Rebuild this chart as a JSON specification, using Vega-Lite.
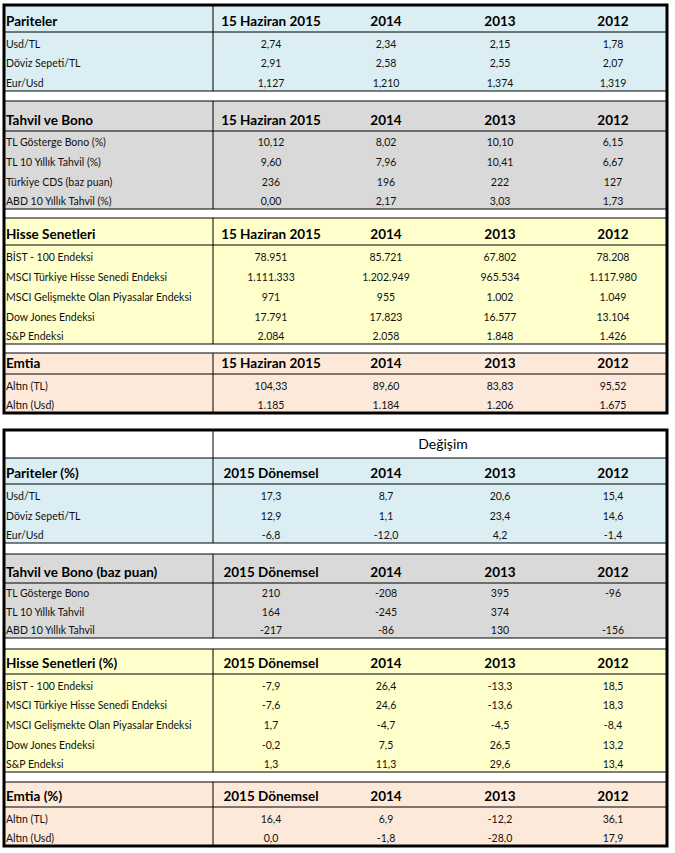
{
"$schema": "https://vega.github.io/schema/vega-lite/v6.json",
"width": 675, "height": 853, "autosize": "none", "padding": 0, "background": "white",
"config": {"view": {"stroke": null}, "font": "Lato"},
"datasets": {
"cells": [
{"r":1,"c":0,"k":"h","t":"Pariteler"},{"r":1,"c":1,"k":"h","t":"15 Haziran 2015"},{"r":1,"c":2,"k":"h","t":"2014"},{"r":1,"c":3,"k":"h","t":"2013"},{"r":1,"c":4,"k":"h","t":"2012"},
{"r":2,"c":0,"k":"b","t":"Usd/TL"},{"r":2,"c":1,"k":"b","t":"2,74"},{"r":2,"c":2,"k":"b","t":"2,34"},{"r":2,"c":3,"k":"b","t":"2,15"},{"r":2,"c":4,"k":"b","t":"1,78"},
{"r":3,"c":0,"k":"b","t":"Döviz Sepeti/TL"},{"r":3,"c":1,"k":"b","t":"2,91"},{"r":3,"c":2,"k":"b","t":"2,58"},{"r":3,"c":3,"k":"b","t":"2,55"},{"r":3,"c":4,"k":"b","t":"2,07"},
{"r":4,"c":0,"k":"b","t":"Eur/Usd"},{"r":4,"c":1,"k":"b","t":"1,127"},{"r":4,"c":2,"k":"b","t":"1,210"},{"r":4,"c":3,"k":"b","t":"1,374"},{"r":4,"c":4,"k":"b","t":"1,319"},
{"r":6,"c":0,"k":"h","t":"Tahvil ve Bono"},{"r":6,"c":1,"k":"h","t":"15 Haziran 2015"},{"r":6,"c":2,"k":"h","t":"2014"},{"r":6,"c":3,"k":"h","t":"2013"},{"r":6,"c":4,"k":"h","t":"2012"},
{"r":7,"c":0,"k":"b","t":"TL Gösterge Bono (%)"},{"r":7,"c":1,"k":"b","t":"10,12"},{"r":7,"c":2,"k":"b","t":"8,02"},{"r":7,"c":3,"k":"b","t":"10,10"},{"r":7,"c":4,"k":"b","t":"6,15"},
{"r":8,"c":0,"k":"b","t":"TL 10 Yıllık Tahvil (%)"},{"r":8,"c":1,"k":"b","t":"9,60"},{"r":8,"c":2,"k":"b","t":"7,96"},{"r":8,"c":3,"k":"b","t":"10,41"},{"r":8,"c":4,"k":"b","t":"6,67"},
{"r":9,"c":0,"k":"b","t":"Türkiye CDS (baz puan)"},{"r":9,"c":1,"k":"b","t":"236"},{"r":9,"c":2,"k":"b","t":"196"},{"r":9,"c":3,"k":"b","t":"222"},{"r":9,"c":4,"k":"b","t":"127"},
{"r":10,"c":0,"k":"b","t":"ABD 10 Yıllık Tahvil (%)"},{"r":10,"c":1,"k":"b","t":"0,00"},{"r":10,"c":2,"k":"b","t":"2,17"},{"r":10,"c":3,"k":"b","t":"3,03"},{"r":10,"c":4,"k":"b","t":"1,73"},
{"r":12,"c":0,"k":"h","t":"Hisse Senetleri"},{"r":12,"c":1,"k":"h","t":"15 Haziran 2015"},{"r":12,"c":2,"k":"h","t":"2014"},{"r":12,"c":3,"k":"h","t":"2013"},{"r":12,"c":4,"k":"h","t":"2012"},
{"r":13,"c":0,"k":"b","t":"BİST - 100 Endeksi"},{"r":13,"c":1,"k":"b","t":"78.951"},{"r":13,"c":2,"k":"b","t":"85.721"},{"r":13,"c":3,"k":"b","t":"67.802"},{"r":13,"c":4,"k":"b","t":"78.208"},
{"r":14,"c":0,"k":"b","t":"MSCI Türkiye Hisse Senedi Endeksi"},{"r":14,"c":1,"k":"b","t":"1.111.333"},{"r":14,"c":2,"k":"b","t":"1.202.949"},{"r":14,"c":3,"k":"b","t":"965.534"},{"r":14,"c":4,"k":"b","t":"1.117.980"},
{"r":15,"c":0,"k":"b","t":"MSCI Gelişmekte Olan Piyasalar Endeksi"},{"r":15,"c":1,"k":"b","t":"971"},{"r":15,"c":2,"k":"b","t":"955"},{"r":15,"c":3,"k":"b","t":"1.002"},{"r":15,"c":4,"k":"b","t":"1.049"},
{"r":16,"c":0,"k":"b","t":"Dow Jones Endeksi"},{"r":16,"c":1,"k":"b","t":"17.791"},{"r":16,"c":2,"k":"b","t":"17.823"},{"r":16,"c":3,"k":"b","t":"16.577"},{"r":16,"c":4,"k":"b","t":"13.104"},
{"r":17,"c":0,"k":"b","t":"S&P Endeksi"},{"r":17,"c":1,"k":"b","t":"2.084"},{"r":17,"c":2,"k":"b","t":"2.058"},{"r":17,"c":3,"k":"b","t":"1.848"},{"r":17,"c":4,"k":"b","t":"1.426"},
{"r":19,"c":0,"k":"h","t":"Emtia"},{"r":19,"c":1,"k":"h","t":"15 Haziran 2015"},{"r":19,"c":2,"k":"h","t":"2014"},{"r":19,"c":3,"k":"h","t":"2013"},{"r":19,"c":4,"k":"h","t":"2012"},
{"r":20,"c":0,"k":"b","t":"Altın (TL)"},{"r":20,"c":1,"k":"b","t":"104,33"},{"r":20,"c":2,"k":"b","t":"89,60"},{"r":20,"c":3,"k":"b","t":"83,83"},{"r":20,"c":4,"k":"b","t":"95,52"},
{"r":21,"c":0,"k":"b","t":"Altın (Usd)"},{"r":21,"c":1,"k":"b","t":"1.185"},{"r":21,"c":2,"k":"b","t":"1.184"},{"r":21,"c":3,"k":"b","t":"1.206"},{"r":21,"c":4,"k":"b","t":"1.675"},
{"r":23,"c":2.5,"k":"t","t":"Değişim"},
{"r":24,"c":0,"k":"h","t":"Pariteler (%)"},{"r":24,"c":1,"k":"h","t":"2015 Dönemsel"},{"r":24,"c":2,"k":"h","t":"2014"},{"r":24,"c":3,"k":"h","t":"2013"},{"r":24,"c":4,"k":"h","t":"2012"},
{"r":25,"c":0,"k":"b","t":"Usd/TL"},{"r":25,"c":1,"k":"b","t":"17,3"},{"r":25,"c":2,"k":"b","t":"8,7"},{"r":25,"c":3,"k":"b","t":"20,6"},{"r":25,"c":4,"k":"b","t":"15,4"},
{"r":26,"c":0,"k":"b","t":"Döviz Sepeti/TL"},{"r":26,"c":1,"k":"b","t":"12,9"},{"r":26,"c":2,"k":"b","t":"1,1"},{"r":26,"c":3,"k":"b","t":"23,4"},{"r":26,"c":4,"k":"b","t":"14,6"},
{"r":27,"c":0,"k":"b","t":"Eur/Usd"},{"r":27,"c":1,"k":"b","t":"-6,8"},{"r":27,"c":2,"k":"b","t":"-12,0"},{"r":27,"c":3,"k":"b","t":"4,2"},{"r":27,"c":4,"k":"b","t":"-1,4"},
{"r":29,"c":0,"k":"h","t":"Tahvil ve Bono (baz puan)"},{"r":29,"c":1,"k":"h","t":"2015 Dönemsel"},{"r":29,"c":2,"k":"h","t":"2014"},{"r":29,"c":3,"k":"h","t":"2013"},{"r":29,"c":4,"k":"h","t":"2012"},
{"r":30,"c":0,"k":"b","t":"TL Gösterge Bono"},{"r":30,"c":1,"k":"b","t":"210"},{"r":30,"c":2,"k":"b","t":"-208"},{"r":30,"c":3,"k":"b","t":"395"},{"r":30,"c":4,"k":"b","t":"-96"},
{"r":31,"c":0,"k":"b","t":"TL 10 Yıllık Tahvil"},{"r":31,"c":1,"k":"b","t":"164"},{"r":31,"c":2,"k":"b","t":"-245"},{"r":31,"c":3,"k":"b","t":"374"},
{"r":32,"c":0,"k":"b","t":"ABD 10 Yıllık Tahvil"},{"r":32,"c":1,"k":"b","t":"-217"},{"r":32,"c":2,"k":"b","t":"-86"},{"r":32,"c":3,"k":"b","t":"130"},{"r":32,"c":4,"k":"b","t":"-156"},
{"r":34,"c":0,"k":"h","t":"Hisse Senetleri (%)"},{"r":34,"c":1,"k":"h","t":"2015 Dönemsel"},{"r":34,"c":2,"k":"h","t":"2014"},{"r":34,"c":3,"k":"h","t":"2013"},{"r":34,"c":4,"k":"h","t":"2012"},
{"r":35,"c":0,"k":"b","t":"BİST - 100 Endeksi"},{"r":35,"c":1,"k":"b","t":"-7,9"},{"r":35,"c":2,"k":"b","t":"26,4"},{"r":35,"c":3,"k":"b","t":"-13,3"},{"r":35,"c":4,"k":"b","t":"18,5"},
{"r":36,"c":0,"k":"b","t":"MSCI Türkiye Hisse Senedi Endeksi"},{"r":36,"c":1,"k":"b","t":"-7,6"},{"r":36,"c":2,"k":"b","t":"24,6"},{"r":36,"c":3,"k":"b","t":"-13,6"},{"r":36,"c":4,"k":"b","t":"18,3"},
{"r":37,"c":0,"k":"b","t":"MSCI Gelişmekte Olan Piyasalar Endeksi"},{"r":37,"c":1,"k":"b","t":"1,7"},{"r":37,"c":2,"k":"b","t":"-4,7"},{"r":37,"c":3,"k":"b","t":"-4,5"},{"r":37,"c":4,"k":"b","t":"-8,4"},
{"r":38,"c":0,"k":"b","t":"Dow Jones Endeksi"},{"r":38,"c":1,"k":"b","t":"-0,2"},{"r":38,"c":2,"k":"b","t":"7,5"},{"r":38,"c":3,"k":"b","t":"26,5"},{"r":38,"c":4,"k":"b","t":"13,2"},
{"r":39,"c":0,"k":"b","t":"S&P Endeksi"},{"r":39,"c":1,"k":"b","t":"1,3"},{"r":39,"c":2,"k":"b","t":"11,3"},{"r":39,"c":3,"k":"b","t":"29,6"},{"r":39,"c":4,"k":"b","t":"13,4"},
{"r":41,"c":0,"k":"h","t":"Emtia (%)"},{"r":41,"c":1,"k":"h","t":"2015 Dönemsel"},{"r":41,"c":2,"k":"h","t":"2014"},{"r":41,"c":3,"k":"h","t":"2013"},{"r":41,"c":4,"k":"h","t":"2012"},
{"r":42,"c":0,"k":"b","t":"Altın (TL)"},{"r":42,"c":1,"k":"b","t":"16,4"},{"r":42,"c":2,"k":"b","t":"6,9"},{"r":42,"c":3,"k":"b","t":"-12,2"},{"r":42,"c":4,"k":"b","t":"36,1"},
{"r":43,"c":0,"k":"b","t":"Altın (Usd)"},{"r":43,"c":1,"k":"b","t":"0,0"},{"r":43,"c":2,"k":"b","t":"-1,8"},{"r":43,"c":3,"k":"b","t":"-28,0"},{"r":43,"c":4,"k":"b","t":"17,9"}
],
"blocks": [
{"g":"Pariteler","y0":0,"y1":4},{"g":"Tahvil","y0":5,"y1":10},{"g":"Hisse","y0":11,"y1":17},{"g":"Emtia","y0":18,"y1":21},
{"g":"Başlık","y0":22,"y1":23},
{"g":"Pariteler","y0":23,"y1":27},{"g":"Tahvil","y0":28,"y1":32},{"g":"Hisse","y0":33,"y1":39},{"g":"Emtia","y0":40,"y1":43}
],
"hlines": [{"b":1},{"b":4},{"b":5},{"b":6},{"b":10},{"b":11},{"b":12},{"b":17},{"b":18},{"b":19},{"b":23},{"b":24},{"b":27},{"b":28},{"b":29},{"b":32},{"b":33},{"b":34},{"b":39},{"b":40},{"b":41}],
"tables": [{"y0":0,"y1":21},{"y0":22,"y1":43}]
},
"resolve": {"scale": {"x": "independent"}},
"layer": [
{"data": {"name": "blocks"}, "mark": {"type": "rect"},
 "encoding": {
  "x": {"datum": 0, "type": "quantitative", "axis": null, "scale": {"domain": [0,1,2,3,4,5], "range": [4,213,328,443,556,667], "nice": false, "zero": false}},
  "x2": {"datum": 5},
  "y": {"field": "y0", "type": "quantitative", "axis": null, "scale": {"domain": [0,1,2,3,4,5,6,7,8,9,10,11,12,13,14,15,16,17,18,19,20,21,22,23,24,25,26,27,28,29,30,31,32,33,34,35,36,37,38,39,40,41,42,43], "range": [5,32,52,71,91,101,131,150,170,190,209,218,245,265,285,305,325,344,353,374,394,413,430,458,484,504,524,543,554,583,601,620,638,649,674,694,713,733,753,772,782,807,827,846], "nice": false, "zero": false}},
  "y2": {"field": "y1"},
  "color": {"field": "g", "type": "nominal", "legend": null, "scale": {"domain": ["Pariteler","Tahvil","Hisse","Emtia","Başlık"], "range": ["#DAEEF3","#D9D9D9","#FFFFCC","#FDE9D9","#FFFFFF"]}}
 }},
{"data": {"name": "hlines"}, "mark": {"type": "rule", "color": "#000000", "strokeWidth": 1},
 "encoding": {
  "x": {"datum": 0, "type": "quantitative", "axis": null, "scale": {"domain": [0,1,2,3,4,5], "range": [4,213,328,443,556,667], "nice": false, "zero": false}},
  "x2": {"datum": 5},
  "y": {"field": "b", "type": "quantitative", "axis": null}
 }},
{"data": {"name": "blocks"}, "mark": {"type": "rule", "color": "#000000", "strokeWidth": 1},
 "encoding": {
  "x": {"datum": 1, "type": "quantitative", "axis": null, "scale": {"domain": [0,1,2,3,4,5], "range": [4,213,328,443,556,667], "nice": false, "zero": false}},
  "y": {"field": "y0", "type": "quantitative", "axis": null},
  "y2": {"field": "y1"}
 }},
{"data": {"name": "tables"}, "mark": {"type": "rect", "fillOpacity": 0, "stroke": "#000000", "strokeWidth": 3},
 "encoding": {
  "x": {"datum": 0, "type": "quantitative", "axis": null, "scale": {"domain": [0,1,2,3,4,5], "range": [4,213,328,443,556,667], "nice": false, "zero": false}},
  "x2": {"datum": 5},
  "y": {"field": "y0", "type": "quantitative", "axis": null},
  "y2": {"field": "y1"}
 }},
{"data": {"name": "cells"}, "transform": [{"filter": "datum.k == 'b' && datum.c == 0"}],
 "mark": {"type": "text", "align": "left", "baseline": "alphabetic", "fontSize": 10.5, "dx": 2, "dy": -4, "color": "#111111"},
 "encoding": {
  "x": {"field": "c", "type": "quantitative", "axis": null, "scale": {"domain": [0,1,2,3,4], "range": [4,271,386,500,613], "nice": false, "zero": false}},
  "y": {"field": "r", "type": "quantitative", "axis": null},
  "text": {"field": "t"}
 }},
{"data": {"name": "cells"}, "transform": [{"filter": "datum.k == 'b' && datum.c > 0"}],
 "mark": {"type": "text", "align": "center", "baseline": "alphabetic", "fontSize": 10.5, "dy": -4, "color": "#111111"},
 "encoding": {
  "x": {"field": "c", "type": "quantitative", "axis": null, "scale": {"domain": [0,1,2,3,4], "range": [4,271,386,500,613], "nice": false, "zero": false}},
  "y": {"field": "r", "type": "quantitative", "axis": null},
  "text": {"field": "t"}
 }},
{"data": {"name": "cells"}, "transform": [{"filter": "datum.k == 'h' && datum.c == 0"}],
 "mark": {"type": "text", "align": "left", "baseline": "alphabetic", "fontSize": 13.5, "fontWeight": "bold", "dx": 2, "dy": -6, "color": "#000000"},
 "encoding": {
  "x": {"field": "c", "type": "quantitative", "axis": null, "scale": {"domain": [0,1,2,3,4], "range": [4,271,386,500,613], "nice": false, "zero": false}},
  "y": {"field": "r", "type": "quantitative", "axis": null},
  "text": {"field": "t"}
 }},
{"data": {"name": "cells"}, "transform": [{"filter": "datum.k == 'h' && datum.c > 0"}],
 "mark": {"type": "text", "align": "center", "baseline": "alphabetic", "fontSize": 13.5, "fontWeight": "bold", "dy": -6, "color": "#000000"},
 "encoding": {
  "x": {"field": "c", "type": "quantitative", "axis": null, "scale": {"domain": [0,1,2,3,4], "range": [4,271,386,500,613], "nice": false, "zero": false}},
  "y": {"field": "r", "type": "quantitative", "axis": null},
  "text": {"field": "t"}
 }},
{"data": {"name": "cells"}, "transform": [{"filter": "datum.k == 't'"}],
 "mark": {"type": "text", "align": "center", "baseline": "alphabetic", "fontSize": 14, "dy": -9, "color": "#000000"},
 "encoding": {
  "x": {"field": "c", "type": "quantitative", "axis": null, "scale": {"domain": [0,1,2,3,4], "range": [4,271,386,500,613], "nice": false, "zero": false}},
  "y": {"field": "r", "type": "quantitative", "axis": null},
  "text": {"field": "t"}
 }}
]
}
